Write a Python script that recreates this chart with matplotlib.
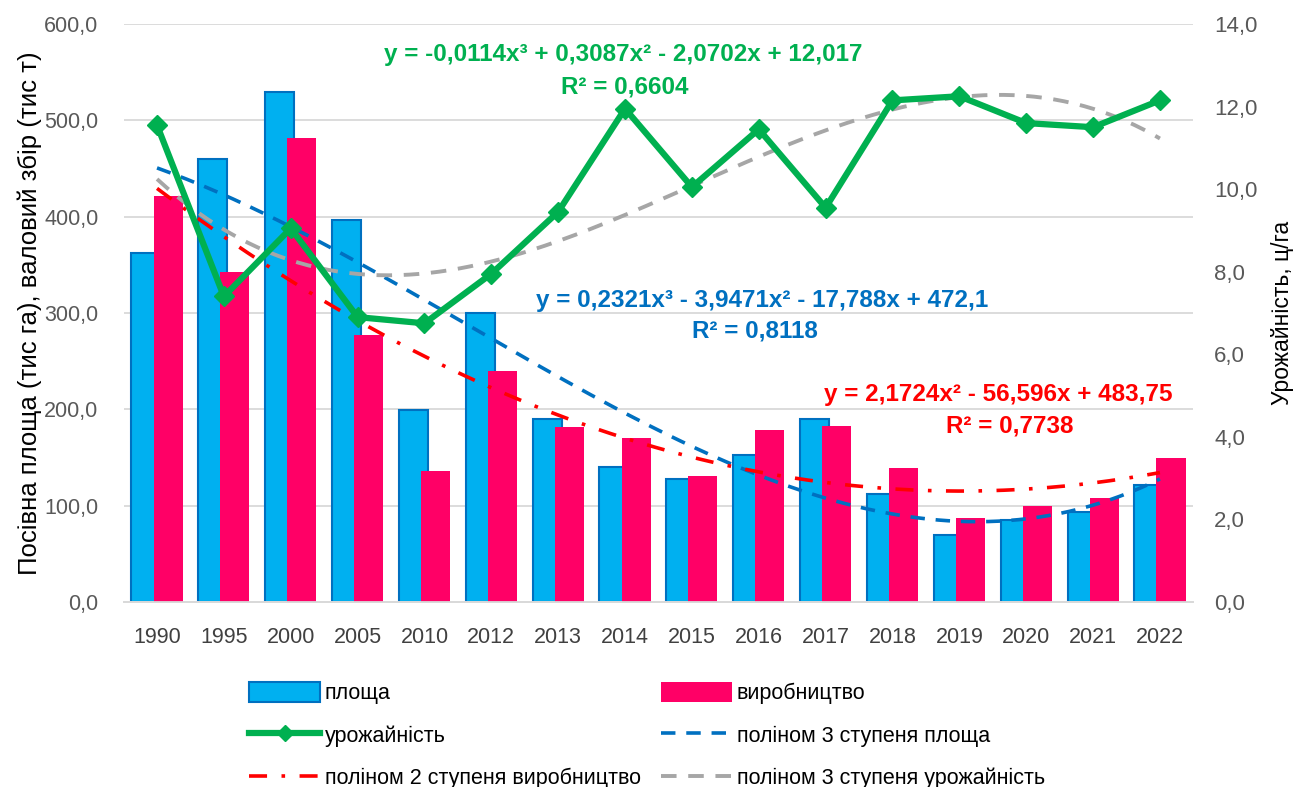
import numpy as np
import matplotlib.pyplot as plt
from matplotlib.patches import Patch
from matplotlib.lines import Line2D
from matplotlib.ticker import FuncFormatter

plt.rcParams['font.family'] = ['Liberation Sans', 'DejaVu Sans']

years = ['1990', '1995', '2000', '2005', '2010', '2012', '2013', '2014',
         '2015', '2016', '2017', '2018', '2019', '2020', '2021', '2022']
area = [362, 460, 529, 397, 199, 300, 190, 140, 128, 153, 190, 112, 70, 85, 93, 121]
production = [421, 343, 482, 277, 136, 240, 182, 170, 131, 179, 183, 139, 87, 100, 108, 149]
yields = [11.55, 7.4, 9.05, 6.9, 6.75, 7.95, 9.45, 11.95, 10.05, 11.45, 9.55,
          12.15, 12.25, 11.6, 11.5, 12.15]

# trendline coefficients as printed on the chart (highest power first)
area_poly = [0.2321, -3.9471, -17.788, 472.1]
prod_poly = [2.1724, -56.596, 483.75]
yield_poly = [-0.0114, 0.3087, -2.0702, 12.017]

x = np.arange(len(years))
xt = np.linspace(1, len(years), 200)

fig = plt.figure(figsize=(12.97, 7.87), dpi=100)
ax = fig.add_axes([0.0953, 0.2351, 0.8248, 0.7344])
ax2 = ax.twinx()

w = 0.435
ax.bar(x - 0.165, area, w, color='#00B0F0', edgecolor='#0070C0', linewidth=1.5, zorder=2)
ax.bar(x + 0.165, production, w, color='#FF0066', zorder=3)
ax.plot(xt - 1, np.polyval(area_poly, xt), color='#0070C0', lw=2.6,
        dashes=(4, 3), zorder=4)
ax.plot(xt - 1, np.polyval(prod_poly, xt), color='#FF0000', lw=2.6,
        dashes=(5, 4, 1, 4), zorder=4)

ax2.plot(xt - 1, np.polyval(yield_poly, xt), color='#A6A6A6', lw=2.8, dashes=(4, 3))
ax2.plot(x, yields, color='#00B050', lw=4.5, marker='D', markersize=10)

ax.set_xlim(-0.5, len(years) - 0.5)
ax.set_ylim(0, 600)
ax2.set_ylim(0, 14)
ax.set_yticks(range(0, 601, 100))
ax2.set_yticks(range(0, 15, 2))
comma = FuncFormatter(lambda v, p: f'{v:.1f}'.replace('.', ','))
ax.yaxis.set_major_formatter(comma)
ax2.yaxis.set_major_formatter(comma)
ax.set_xticks(x)
ax.set_xticklabels(years)

ax.grid(axis='y', color='#D9D9D9', lw=1.3, zorder=0)
ax.set_axisbelow(True)
for a in (ax, ax2):
    for s in ('top', 'left', 'right'):
        a.spines[s].set_visible(False)
    a.spines['bottom'].set_color('#D9D9D9')
    a.spines['bottom'].set_linewidth(1.3)
    a.tick_params(length=0, labelsize=15.5, labelcolor='#595959')
ax.tick_params(axis='x', labelcolor='#404040', pad=18, labelsize=15.5)
ax.tick_params(axis='y', pad=18)
ax2.tick_params(axis='y', pad=15, labelsize=16)

ax.set_ylabel('Посівна площа (тис га), валовий збір (тис т)', fontsize=18.5, labelpad=2)
ax2.set_ylabel('Урожайність, ц/га', fontsize=16.5, rotation=90, labelpad=10)

eq = dict(fontsize=17.5, fontweight='bold', ha='center', va='center')
fig.text(623 / 1297, 1 - 54 / 787, 'y = -0,0114x³ + 0,3087x² - 2,0702x + 12,017',
         color='#00B050', **eq)
fig.text(625 / 1297, 1 - 87 / 787, 'R² = 0,6604', color='#00B050', **eq)
fig.text(762 / 1297, 1 - 300 / 787, 'y = 0,2321x³ - 3,9471x² - 17,788x + 472,1',
         color='#0070C0', **eq)
fig.text(755 / 1297, 1 - 331 / 787, 'R² = 0,8118', color='#0070C0', **eq)
fig.text(998 / 1297, 1 - 395 / 787, 'y = 2,1724x² - 56,596x + 483,75',
         color='#FF0000', **eq)
fig.text(1010 / 1297, 1 - 426 / 787, 'R² = 0,7738', color='#FF0000', **eq)

handles = [
    Patch(facecolor='#00B0F0', edgecolor='#0070C0', linewidth=1.5),
    Line2D([], [], color='#00B050', lw=4.5, marker='D', markersize=8),
    Line2D([], [], color='#FF0000', lw=2.6, dashes=(5, 4, 1, 4)),
    Patch(facecolor='#FF0066'),
    Line2D([], [], color='#0070C0', lw=2.6, dashes=(4, 3)),
    Line2D([], [], color='#A6A6A6', lw=2.8, dashes=(4, 3)),
]
labels = ['площа', 'урожайність', 'поліном 2 ступеня виробництво',
          'виробництво', 'поліном 3 ступеня площа', 'поліном 3 ступеня урожайність']
fig.legend(handles, labels, ncol=2, loc='upper left', bbox_to_anchor=(230 / 1297, 1 - 663 / 787),
           frameon=False, fontsize=15.5, handlelength=3.3, handleheight=1.0,
           handletextpad=0.2, columnspacing=0.95, labelspacing=0.95)

fig.savefig('out.png', dpi=100)
